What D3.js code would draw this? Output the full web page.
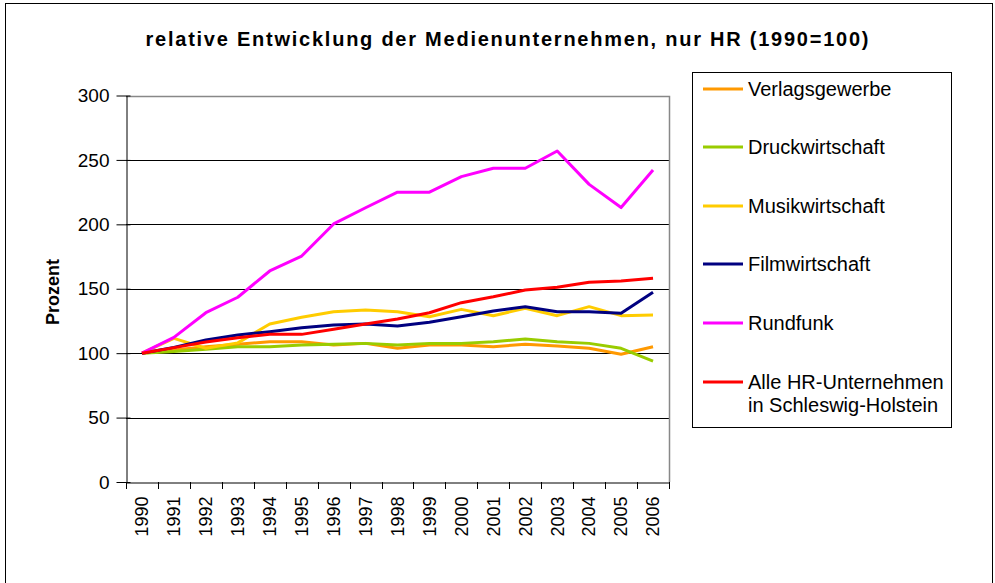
<!DOCTYPE html>
<html lang="de">
<head>
<meta charset="UTF-8">
<title>relative Entwicklung der Medienunternehmen</title>
<script src="https://cdn.jsdelivr.net/npm/d3@7"></script>
<style>
    body { margin: 0; background: #fff; }
    svg { font-family: "Liberation Sans", Arial, sans-serif; }
</style>
</head>
<body>
<div id="chart"></div>
<script>
var years = ["1990", "1991", "1992", "1993", "1994", "1995", "1996", "1997", "1998",
             "1999", "2000", "2001", "2002", "2003", "2004", "2005", "2006"];

var verlagsgewerbe = [100, 102.5, 105, 106.9, 108.9, 108.9, 106.3, 107.6, 103.8, 106.3, 106.3, 105, 106.9, 105.5, 103.8, 99.1, 105];
var druckwirtschaft = [100, 101.2, 103, 105, 105, 106.3, 106.9, 107.6, 106.3, 107.6, 107.6, 108.9, 111, 108.9, 107.6, 103.8, 93.9];
var musikwirtschaft = [100, 111.5, 103.8, 108, 122.6, 127.9, 132.2, 133.5, 132.2, 128.3, 134, 129.1, 134.8, 129.1, 136.1, 129.1, 129.6];
var filmwirtschaft = [100, 104.5, 110.2, 114.1, 116.7, 119.8, 121.9, 122.6, 121.1, 124, 128.3, 132.7, 136.1, 132.2, 132.2, 130.9, 147.2];
var rundfunk = [100, 112.3, 131.4, 143.4, 163.8, 175.4, 200.3, 212.9, 225, 225, 237, 243.5, 243.5, 256.9, 231, 213, 242.2];
var alleHR = [100, 104.3, 108.6, 112, 114.6, 114.6, 118.5, 122.6, 126.5, 131.4, 139.2, 143.8, 149, 151.1, 155, 156, 158.1];

var seriesNames = ["Verlagsgewerbe", "Druckwirtschaft", "Musikwirtschaft", "Filmwirtschaft", "Rundfunk", "Alle HR-Unternehmen|in Schleswig-Holstein"];
var seriesValues = [verlagsgewerbe, druckwirtschaft, musikwirtschaft, filmwirtschaft, rundfunk, alleHR];
var seriesColors = ["#FF9900", "#99CC00", "#FFCC00", "#000080", "#FF00FF", "#FF0000"];
var yTicks = [0, 50, 100, 150, 200, 250, 300];

var width = 995, height = 583;
var plot = {left: 126, right: 669, top: 95.5, bottom: 482};

var svg = d3.select("#chart").append("svg")
    .attr("width", width)
    .attr("height", height);

// outer chart frame
svg.append("rect")
    .attr("x", 5.5).attr("y", 3.5)
    .attr("width", 987).attr("height", 600)
    .attr("fill", "none").attr("stroke", "#000").attr("stroke-width", 1);

var x = d3.scaleBand().domain(years).range([plot.left, plot.right]);
var y = d3.scaleLinear().domain([0, 300]).range([plot.bottom, plot.top]);

// gridlines
svg.append("g").selectAll("line")
    .data(yTicks.filter(function(d) { return d > 0 && d < 300; }))
    .enter().append("line")
    .attr("x1", plot.left).attr("x2", plot.right)
    .attr("y1", function(d) { return Math.round(y(d)) + 0.5; })
    .attr("y2", function(d) { return Math.round(y(d)) + 0.5; })
    .attr("stroke", "#000").attr("stroke-width", 1);

// plot area border (top/right gray)
svg.append("path")
    .attr("d", "M" + plot.left + "," + (Math.round(y(300)) + 0.5) + "H" + (plot.right + 0.5) + "V" + plot.bottom)
    .attr("fill", "none").attr("stroke", "#888").attr("stroke-width", 1.5);

// y axis
var yAxis = svg.append("g")
    .attr("transform", "translate(" + (plot.left + 0.5) + ",0)")
    .call(d3.axisLeft(y).tickValues(yTicks).tickSizeInner(10).tickSizeOuter(0).tickPadding(7));
yAxis.select(".domain").attr("stroke", "#000");
yAxis.selectAll(".tick line").attr("x2", 4).attr("x1", -10);
yAxis.selectAll(".tick text")
    .attr("x", -17)
    .attr("font-size", "19px")
    .attr("font-family", "Liberation Sans, Arial, sans-serif")
    .attr("fill", "#000");

// x axis
var xAxis = svg.append("g")
    .attr("transform", "translate(0," + (plot.bottom + 0.5) + ")")
    .call(d3.axisBottom(x).tickSize(0).tickPadding(0));
xAxis.select(".domain").attr("stroke", "#000");
xAxis.selectAll(".tick text")
    .attr("font-size", "18px")
    .attr("font-family", "Liberation Sans, Arial, sans-serif")
    .attr("fill", "#000")
    .attr("text-anchor", "end")
    .attr("y", 0)
    .attr("dy", "0.35em")
    .attr("transform", "translate(0,14) rotate(-90)");

// category boundary ticks
svg.append("g").selectAll("line")
    .data(years.concat(["end"]))
    .enter().append("line")
    .attr("x1", function(d, i) { return Math.round(plot.left + i * x.step()) + 0.5; })
    .attr("x2", function(d, i) { return Math.round(plot.left + i * x.step()) + 0.5; })
    .attr("y1", plot.bottom).attr("y2", plot.bottom + 7)
    .attr("stroke", "#000");

// lines
var line = d3.line()
    .x(function(d, i) { return x(years[i]) + x.bandwidth() / 2; })
    .y(function(d) { return y(d); });

seriesValues.forEach(function(vals, i) {
    svg.append("path")
        .datum(vals)
        .attr("d", line)
        .attr("fill", "none")
        .attr("stroke", seriesColors[i])
        .attr("stroke-width", 3)
        .attr("stroke-linejoin", "round");
});

// title
svg.append("text")
    .attr("x", 507).attr("y", 46)
    .attr("text-anchor", "middle")
    .attr("font-size", "20px")
    .attr("font-weight", "bold")
    .attr("textLength", 723)
    .attr("lengthAdjust", "spacing")
    .text("relative Entwicklung der Medienunternehmen, nur HR (1990=100)");

// y axis title
svg.append("text")
    .attr("transform", "translate(59,292) rotate(-90)")
    .attr("text-anchor", "middle")
    .attr("font-size", "18px")
    .attr("font-weight", "bold")
    .text("Prozent");

// legend
var legend = svg.append("g");
legend.append("rect")
    .attr("x", 692.5).attr("y", 72.5)
    .attr("width", 259).attr("height", 355)
    .attr("fill", "#fff").attr("stroke", "#000");

var rowY = [89, 147, 206, 264, 323, 382];
seriesNames.forEach(function(name, i) {
    legend.append("line")
        .attr("x1", 703).attr("x2", 743)
        .attr("y1", rowY[i]).attr("y2", rowY[i])
        .attr("stroke", seriesColors[i]).attr("stroke-width", 3);
    var t = legend.append("text")
        .attr("x", 748).attr("y", rowY[i])
        .attr("font-size", "20px");
    name.split("|").forEach(function(part, k) {
        t.append("tspan")
            .attr("x", 748)
            .attr("dy", k === 0 ? "0.35em" : "23px")
            .text(part);
    });
});
</script>
</body>
</html>
